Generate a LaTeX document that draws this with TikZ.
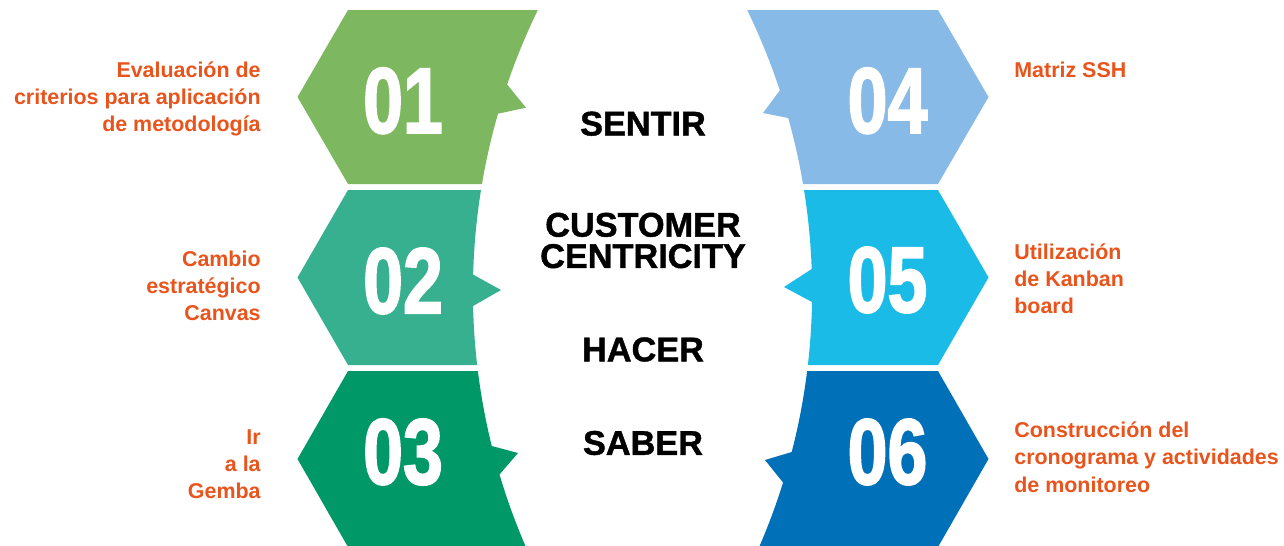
\documentclass[tikz,border=0pt]{standalone}
\usepackage{fontspec}
\setmainfont{Liberation Sans}
\newfontfamily\numfont{Liberation Sans}[BoldFeatures={FakeBold=2.2}]
\newfontfamily\corefont{Liberation Sans}[BoldFeatures={FakeBold=1.2}]
\usepackage{graphicx}
\usetikzlibrary{positioning}
\definecolor{ccGreenA}{HTML}{7DB861}
\definecolor{ccGreenB}{HTML}{36B08F}
\definecolor{ccGreenC}{HTML}{009866}
\definecolor{ccBlueA}{HTML}{87BAE7}
\definecolor{ccBlueB}{HTML}{1ABBE7}
\definecolor{ccBlueC}{HTML}{0070B9}
\definecolor{ccOrange}{HTML}{E8541C}

\begin{document}
\begin{tikzpicture}[x=0.02cm, y=-0.02cm,
  declare function={lx(\t)=1115.8-100*sqrt(41.33-((\t-291.5)/100)^2);
                    rx(\t)=169.2+100*sqrt(41.33-((\t-291.5)/100)^2);},
  num/.style={text=white, font=\fontsize{53}{53}\numfont\bfseries, inner sep=0pt},
  lbl/.style={text=ccOrange, font=\fontsize{12.2}{15.5}\selectfont\bfseries, inner sep=0pt},
  core/.style={font=\fontsize{19.5}{17.8}\corefont\bfseries, align=center, inner sep=0pt}]
  \useasboundingbox (0,0) rectangle (1284,545);
  \clip (0,0) rectangle (1284,545);
  % bloques izquierda
  \foreach \ya/\yb/\na/\tx/\ty/\nb/\col/\num/\ny in
    {10/184/84.5/526/107.7/113.7/ccGreenA/01/100.8,
     190/365/274.6/501/290/306/ccGreenB/02/281,
     371/547/446/518/453/474.5/ccGreenC/03/452}{
    \pgfmathsetmacro\ym{(\ya+\yb)/2}
    \fill[\col] (297.5,\ym) -- (348,\ya)
      -- plot[domain=\ya:\na, samples=12, variable=\t] ({lx(\t)},\t) -- (\tx,\ty)
      -- plot[domain=\nb:\yb, samples=12, variable=\t] ({lx(\t)},\t) -- (348,\yb) -- cycle;
    \node[num] (n\num) at (403,\ny) {\scalebox{0.77}[1]{\num}};
  }
  % bloques derecha
  \foreach \ya/\yb/\na/\tx/\ty/\nb/\col/\num/\ny in
    {10/184/90.4/763/113/118/ccBlueA/04/100.8,
     190/365/269/784/287/302/ccBlueB/05/280,
     371/547/452/765/460/482.5/ccBlueC/06/452}{
    \pgfmathsetmacro\ym{(\ya+\yb)/2}
    \fill[\col] (938,\ya)
      -- plot[domain=\ya:\na, samples=12, variable=\t] ({rx(\t)},\t) -- (\tx,\ty)
      -- plot[domain=\nb:\yb, samples=12, variable=\t] ({rx(\t)},\t) -- (938,\yb)
      -- (988.5,\ym) -- cycle;
    \node[num] (n\num) at (887.5,\ny) {\scalebox{0.77}[1]{\num}};
  }
  % textos centrales
  \node[core] (sentir) at (643,123.7) {SENTIR};
  \node[core] (centro) at (643,240.5) {CUSTOMER\\CENTRICITY};
  \node[core] (hacer) at (643,349.5) {HACER};
  \node[core] (saber) at (643,443) {SABER};
  % etiquetas
  \node[lbl, anchor=east, align=right] (t01) at (261,98.8) {Evaluación de\\criterios para aplicación\\de metodología};
  \node[lbl, anchor=east, align=right] (t02) at (261,285.7) {Cambio\\estratégico\\Canvas};
  \node[lbl, anchor=east, align=right] (t03) at (261,464) {Ir\\a la\\Gemba};
  \node[lbl, anchor=west, align=left] (t04) at (1014,69.5) {Matriz SSH};
  \node[lbl, anchor=west, align=left] (t05) at (1014,278.8) {Utilización\\de Kanban\\board};
  \node[lbl, anchor=west, align=left] (t06) at (1014,457.1) {Construcción del\\cronograma y actividades\\de monitoreo};
\end{tikzpicture}
\end{document}
